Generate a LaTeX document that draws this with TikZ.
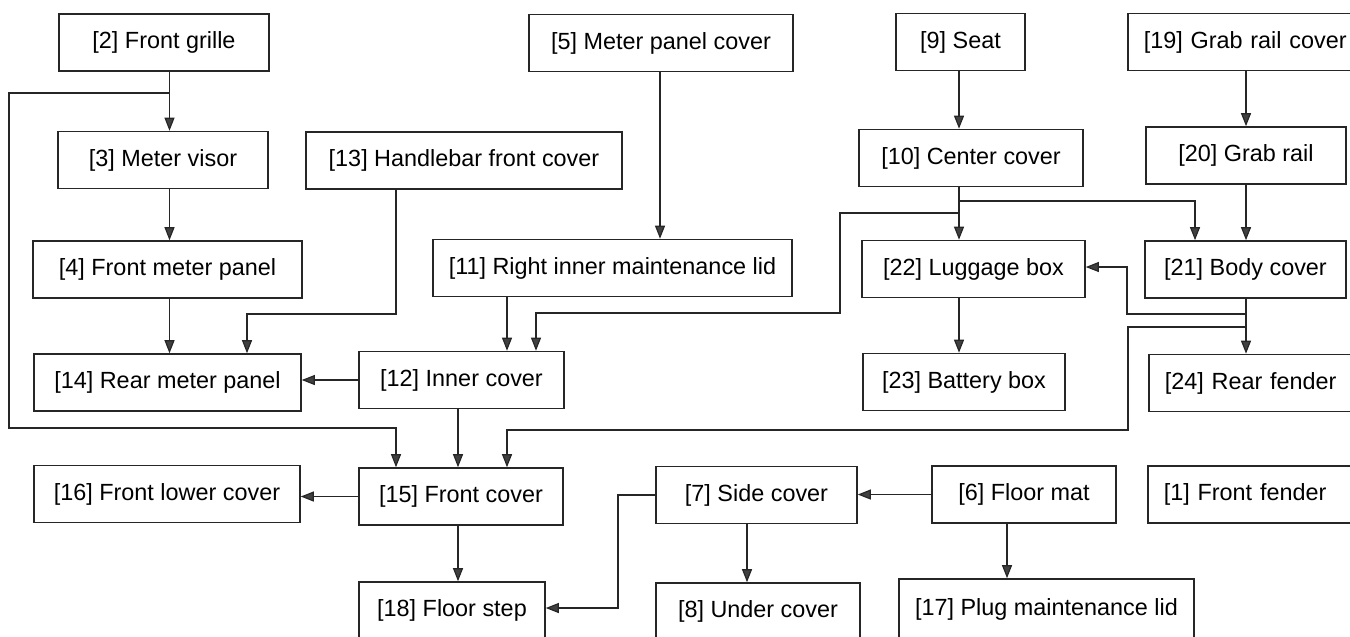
\documentclass[tikz,border=0pt]{standalone}
\usepackage{fontspec}
\setmainfont{Liberation Sans}
\usetikzlibrary{arrows.meta}

\tikzset{
  part/.style={draw=black!85, line width=0.8pt, minimum height=28.5pt, inner sep=0pt,
    font=\fontsize{11.7}{14}\selectfont},
  cutpart/.style={part, anchor=west, align=left, text width=130pt, inner xsep=8pt},
  link/.style={draw=black!85, line width=0.6pt,
    -{Triangle[length=6.5pt, width=5pt, fill=black!75]}},
}

\begin{document}
\begin{tikzpicture}[x=0.5pt, y=-0.5pt]
\clip (0,0) rectangle (1350,637);

% columns of the vertical runs
\coordinate (colA) at (169.5,0);
\coordinate (colB) at (396,0);
\coordinate (colD) at (660,0);
\coordinate (colE) at (507,0);
\coordinate (colF) at (536,0);
\coordinate (colG) at (458,0);
\coordinate (colH) at (959,0);
\coordinate (colI) at (1195,0);
\coordinate (colJ) at (1246,0);
\coordinate (colO) at (747,0);
\coordinate (colP) at (1007,0);

% parts
\node[part, minimum width=105pt] (grille) at (164,42.5) {[2] Front grille};
\node[part, minimum width=132pt] (mpcover) at (661,43) {[5] Meter panel cover};
\node[part, minimum width=64.5pt] (seat) at (960.5,42) {[9] Seat};
\node[cutpart] (grcover) at (1127,42) {[19] Grab rail cover};
\node[part, minimum width=105pt] (visor) at (163,160) {[3] Meter visor};
\node[part, minimum width=158pt] (hbcover) at (464,160.5) {[13] Handlebar front cover};
\node[part, minimum width=112pt] (ccover) at (971,158) {[10] Center cover};
\node[part, minimum width=100pt] (grail) at (1246,155.5) {[20] Grab rail};
\node[part, minimum width=134.5pt] (fmpanel) at (167.5,269.5) {[4] Front meter panel};
\node[part, minimum width=179.5pt] (mlid) at (612.5,268) {[11] Right inner maintenance lid};
\node[part, minimum width=111.5pt] (lbox) at (973.5,269) {[22] Luggage box};
\node[part, minimum width=100.5pt] (bcover) at (1245.5,269.5) {[21] Body cover};
\node[part, minimum width=133.5pt] (rmpanel) at (167.5,382.5) {[14] Rear meter panel};
\node[part, minimum width=102.5pt] (icover) at (461.5,380) {[12] Inner cover};
\node[part, minimum width=101pt] (bbox) at (964,382) {[23] Battery box};
\node[cutpart] (rfender) at (1148,383) {[24] Rear fender};
\node[part, minimum width=133pt] (flcover) at (167,494) {[16] Front lower cover};
\node[part, minimum width=102pt] (fcover) at (461,496.5) {[15] Front cover};
\node[part, minimum width=100.5pt] (scover) at (756.5,495) {[7] Side cover};
\node[part, minimum width=92pt] (fmat) at (1024,494.5) {[6] Floor mat};
\node[cutpart] (ffender) at (1147,494.5) {[1] Front fender};
\node[part, minimum width=93pt] (fstep) at (452,610.5) {[18] Floor step};
\node[part, minimum width=102pt] (ucover) at (758,611.5) {[8] Under cover};
\node[part, minimum width=147.5pt, minimum height=30.5pt] (pmlid) at (1046.5,609.5) {[17] Plug maintenance lid};

% bends
\coordinate (gsplit) at (169.5,93);
\coordinate (lwall) at (9,428);
\coordinate (hbturn) at (247,314);
\coordinate (ccsplit) at (959,213);
\coordinate (ccturn) at (840,313);
\coordinate (ccsplit2) at (959,201);
\coordinate (bcsplit) at (1246,314);
\coordinate (bcturn) at (1127,267);
\coordinate (bcsplit2) at (1246,327);
\coordinate (bcturn2) at (1128,430);
\coordinate (scturn) at (618,608);

% left column
\draw[link] (grille.south -| colA) -- (visor.north -| colA);
\draw[link] (visor.south -| colA) -- (fmpanel.north -| colA);
\draw[link] (fmpanel.south -| colA) -- (rmpanel.north -| colA);
\draw[link] (gsplit) -| (lwall) -| (fcover.north -| colB);
\draw[link] (hbcover.south -| colB) |- (hbturn) -- (rmpanel.north -| hbturn);

% middle
\draw[link] (mpcover.south -| colD) -- (mlid.north -| colD);
\draw[link] (mlid.south -| colE) -- (icover.north -| colE);
\draw[link] (icover.west) -- (icover.west -| rmpanel.east);
\draw[link] (icover.south -| colG) -- (fcover.north -| colG);
\draw[link] (fcover.west) -- (fcover.west -| flcover.east);
\draw[link] (fcover.south -| colG) -- (fstep.north -| colG);

% seat side
\draw[link] (seat.south -| colH) -- (ccover.north -| colH);
\draw[link] (ccover.south -| colH) -- (lbox.north -| colH);
\draw[link] (lbox.south -| colH) -- (bbox.north -| colH);
\draw[link] (ccsplit) -| (ccturn) -| (icover.north -| colF);
\draw[link] (ccsplit2) -| (bcover.north -| colI);
\draw[link] (grcover.south -| colJ) -- (grail.north -| colJ);
\draw[link] (grail.south -| colJ) -- (bcover.north -| colJ);
\draw[link] (bcover.south -| colJ) -- (rfender.north -| colJ);
\draw[link] (bcsplit) -| (bcturn) -- (bcturn -| lbox.east);
\draw[link] (bcsplit2) -| (bcturn2) -| (fcover.north -| colE);

% floor
\draw[link] (fmat.west) -- (fmat.west -| scover.east);
\draw[link] (scover.south -| colO) -- (ucover.north -| colO);
\draw[link] (scover.west) -| (scturn) -- (scturn -| fstep.east);
\draw[link] (fmat.south -| colP) -- (pmlid.north -| colP);
\end{tikzpicture}
\end{document}
